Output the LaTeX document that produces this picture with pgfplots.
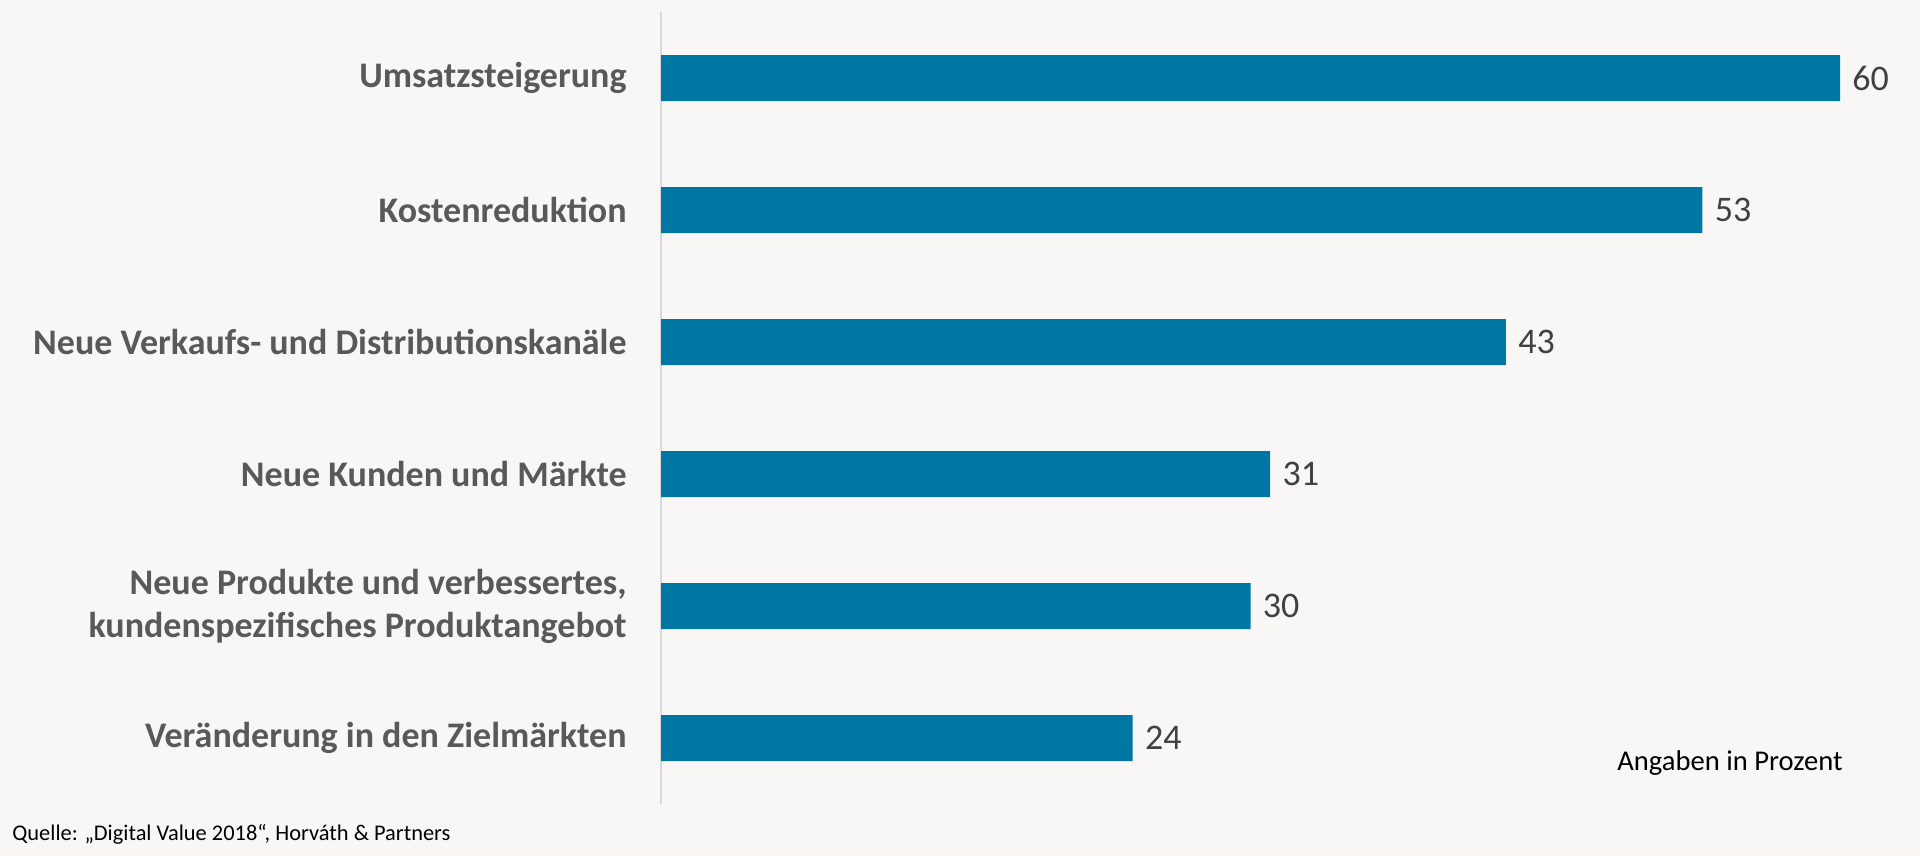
\documentclass[border=0pt]{standalone}
\usepackage{fontspec}
\setmainfont{Carlito}
\usepackage{pgfplots}
\pgfplotsset{compat=1.18}

\definecolor{bgcol}{HTML}{F8F7F5}
\definecolor{barblue}{HTML}{0077A3}
\definecolor{labgray}{HTML}{595959}
\definecolor{valgray}{HTML}{404040}
\definecolor{axgray}{HTML}{D9D9D9}

\begin{document}
\begin{tikzpicture}
% page = 1920x856 px at 0.5pt per px
\fill[bgcol] (0,0) rectangle (960pt,428pt);
\begin{axis}[
  scale only axis,
  anchor=south west, at={(330.5pt,26pt)},
  width=628.8pt, height=396pt,
  xmin=0, xmax=64,
  ymin=-0.5, ymax=5.5,
  y dir=reverse,
  xbar, bar width=23pt,
  axis x line=none,
  axis y line*=left,
  axis line style={draw=axgray, line width=0.8pt, -},
  major tick length=0pt,
  ytick={0,1,2,3,4,5},
  yticklabels={Umsatzsteigerung,Kostenreduktion,Neue Verkaufs- und Distributionskanäle,Neue Kunden und Märkte,{Neue Produkte und verbessertes,\\kundenspezifisches Produktangebot},Veränderung in den Zielmärkten},
  y tick label style={align=right, inner sep=0pt, xshift=-17pt,
    font=\fontsize{18}{21.5}\selectfont\bfseries, text=labgray},
  /pgf/number format/assume math mode=true,
  nodes near coords,
  nodes near coords style={anchor=west, inner sep=0pt, xshift=6pt,
    font=\fontsize{18}{20}\selectfont, text=valgray},
  point meta=x,
  clip=false,
]
\addplot[fill=barblue, draw=none] coordinates {
  (60,0) (53,1) (43,2) (31,3) (30,4) (24,5)
};
\end{axis}
\node[anchor=base east, inner sep=0pt, font=\fontsize{14.3}{16}\selectfont] at (921.5pt,42.5pt) {Angaben in Prozent};
\node[anchor=base west, inner sep=0pt, font=\fontsize{11.2}{13}\selectfont] at (6pt,8pt) {Quelle: „Digital Value 2018“, Horváth \& Partners};
\pgfresetboundingbox
\path[use as bounding box] (0,0) rectangle (960pt,428pt);
\end{tikzpicture}
\end{document}
